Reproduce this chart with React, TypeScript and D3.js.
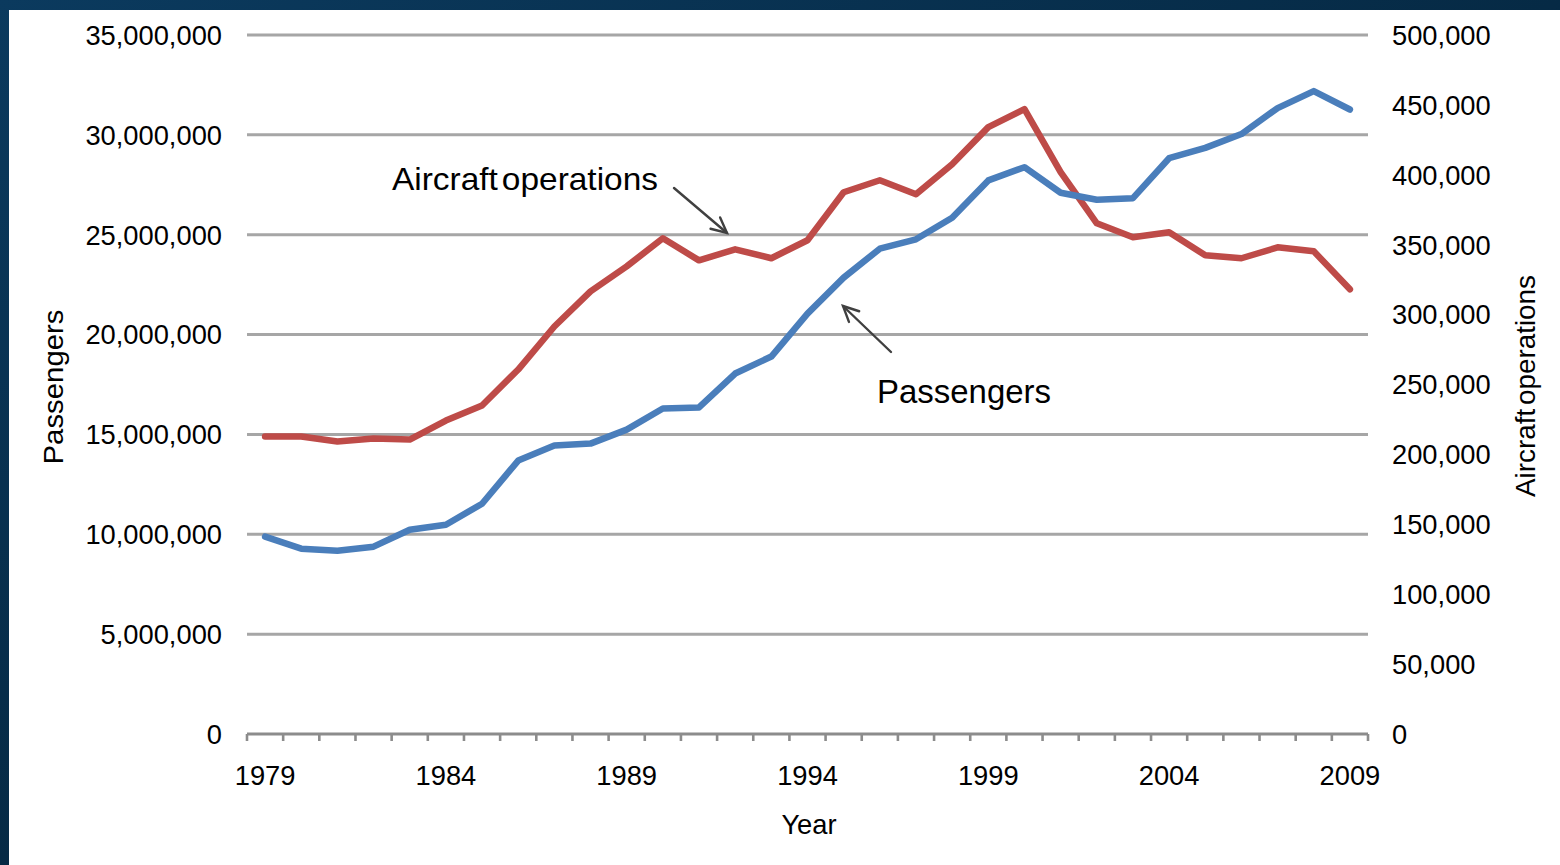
import React from "react";
import * as d3 from "d3";

const years: number[] = [
  1979, 1980, 1981, 1982, 1983, 1984, 1985, 1986, 1987, 1988, 1989, 1990, 1991, 1992, 1993,
  1994, 1995, 1996, 1997, 1998, 1999, 2000, 2001, 2002, 2003, 2004, 2005, 2006, 2007, 2008, 2009,
];

const passengers: number[] = [
  9880000, 9280000, 9180000, 9380000, 10230000, 10480000, 11530000, 13690000, 14440000,
  14540000, 15240000, 16300000, 16350000, 18050000, 18900000, 21050000, 22850000, 24300000,
  24770000, 25850000, 27720000, 28380000, 27100000, 26750000, 26830000, 28830000, 29350000,
  30040000, 31340000, 32190000, 31270000,
];

const aircraftOps: number[] = [
  212800, 212800, 209200, 211300, 210600, 224200, 235000, 260700, 291500, 316600, 334500,
  354600, 338800, 346700, 340300, 353200, 387500, 396100, 386100, 407600, 434100, 447000,
  401900, 365300, 355300, 358900, 342400, 340300, 348100, 345300, 318100,
];

const leftTicks: number[] = [0, 5000000, 10000000, 15000000, 20000000, 25000000, 30000000, 35000000];
const rightTicks: number[] = [0, 50000, 100000, 150000, 200000, 250000, 300000, 350000, 400000, 450000, 500000];
const labelYears: number[] = [1979, 1984, 1989, 1994, 1999, 2004, 2009];

const FONT = "'Liberation Sans', Arial, Helvetica, sans-serif";

export default function App() {
  const W = 1560;
  const H = 865;
  const left = 247;
  const right = 1368;
  const top = 35;
  const bottom = 734;

  const x = d3.scaleBand<number>().domain(years).range([left, right]).paddingInner(0).paddingOuter(0);
  const cx = (yr: number) => (x(yr) as number) + x.bandwidth() / 2;
  const yL = d3.scaleLinear().domain([0, 35000000]).range([bottom, top]);
  const yR = d3.scaleLinear().domain([0, 500000]).range([bottom, top]);

  const fmt = d3.format(",");

  const passLine = d3
    .line<number>()
    .x((_, i) => cx(years[i]))
    .y((d) => yL(d))(passengers) as string;
  const opsLine = d3
    .line<number>()
    .x((_, i) => cx(years[i]))
    .y((d) => yR(d))(aircraftOps) as string;

  const tickXs = years.map((yr) => x(yr) as number).concat([right]);

  const arrow = (x1: number, y1: number, x2: number, y2: number) => {
    const ang = Math.atan2(y2 - y1, x2 - x1);
    const L = 17;
    const a1 = ang + Math.PI - 0.45;
    const a2 = ang + Math.PI + 0.45;
    return (
      <g stroke="#404040" strokeWidth={2.4} fill="none" strokeLinecap="round">
        <line x1={x1} y1={y1} x2={x2} y2={y2} />
        <polyline
          points={`${x2 + L * Math.cos(a1)},${y2 + L * Math.sin(a1)} ${x2},${y2} ${x2 + L * Math.cos(a2)},${y2 + L * Math.sin(a2)}`}
        />
      </g>
    );
  };

  return (
    <svg
      width={W}
      height={H}
      style={{ position: "absolute", left: 0, top: 0, display: "block" }}
      fontFamily={FONT}
    >
      <defs>
        <linearGradient id="bg" x1="0" y1="0" x2="1" y2="1">
          <stop offset="0" stopColor="#0b3a5e" />
          <stop offset="0.5" stopColor="#062a45" />
          <stop offset="1" stopColor="#021a2c" />
        </linearGradient>
      </defs>
      <rect x={0} y={0} width={W} height={H} fill="url(#bg)" />
      <rect x={9} y={10} width={W - 9} height={H - 10} fill="#ffffff" />

      {/* gridlines */}
      {leftTicks
        .filter((t) => t > 0)
        .map((t) => (
          <line key={t} x1={left} x2={right} y1={yL(t)} y2={yL(t)} stroke="#a6a6a6" strokeWidth={3} />
        ))}

      {/* x axis */}
      <line x1={left} x2={right} y1={bottom} y2={bottom} stroke="#8c8c8c" strokeWidth={3.2} />
      {tickXs.map((tx, i) => (
        <line key={i} x1={tx} x2={tx} y1={bottom} y2={bottom + 7} stroke="#8c8c8c" strokeWidth={2.6} />
      ))}

      {/* left tick labels */}
      {leftTicks.map((t) => (
        <text key={t} x={222} y={yL(t)} dy="0.36em" textAnchor="end" fontSize={27.3} fill="#000">
          {fmt(t)}
        </text>
      ))}
      {/* right tick labels */}
      {rightTicks.map((t) => (
        <text key={t} x={1392} y={yR(t)} dy="0.36em" textAnchor="start" fontSize={27.3} fill="#000">
          {fmt(t)}
        </text>
      ))}
      {/* x labels */}
      {labelYears.map((yr) => (
        <text key={yr} x={cx(yr)} y={775} dy="0.36em" textAnchor="middle" fontSize={27.3} fill="#000">
          {yr}
        </text>
      ))}

      {/* axis titles */}
      <text x={809} y={824} dy="0.36em" textAnchor="middle" fontSize={27.3} fill="#000">
        Year
      </text>
      <text
        transform={`translate(53,387) rotate(-90)`}
        dy="0.36em"
        textAnchor="middle"
        fontSize={28.5}
        fill="#000"
        textLength={155}
        lengthAdjust="spacingAndGlyphs"
      >
        Passengers
      </text>
      <text
        transform={`translate(1525,386) rotate(-90)`}
        dy="0.36em"
        textAnchor="middle"
        fontSize={27.3}
        fill="#000"
        wordSpacing={-4}
        textLength={222}
        lengthAdjust="spacingAndGlyphs"
      >
        Aircraft operations
      </text>

      {/* lines */}
      <path d={opsLine} fill="none" stroke="#be4b48" strokeWidth={6.5} strokeLinejoin="round" strokeLinecap="round" />
      <path d={passLine} fill="none" stroke="#4a7ebb" strokeWidth={6.5} strokeLinejoin="round" strokeLinecap="round" />

      {/* annotations */}
      <text
        x={392}
        y={179}
        dy="0.36em"
        textAnchor="start"
        fontSize={31.5}
        fill="#000"
        wordSpacing={-5}
        textLength={266}
        lengthAdjust="spacingAndGlyphs"
      >
        Aircraft operations
      </text>
      {arrow(674, 188, 727, 233)}
      <text
        x={877}
        y={391}
        dy="0.36em"
        textAnchor="start"
        fontSize={32.5}
        fill="#000"
        textLength={174}
        lengthAdjust="spacingAndGlyphs"
      >
        Passengers
      </text>
      {arrow(891, 352, 843, 306)}
    </svg>
  );
}
